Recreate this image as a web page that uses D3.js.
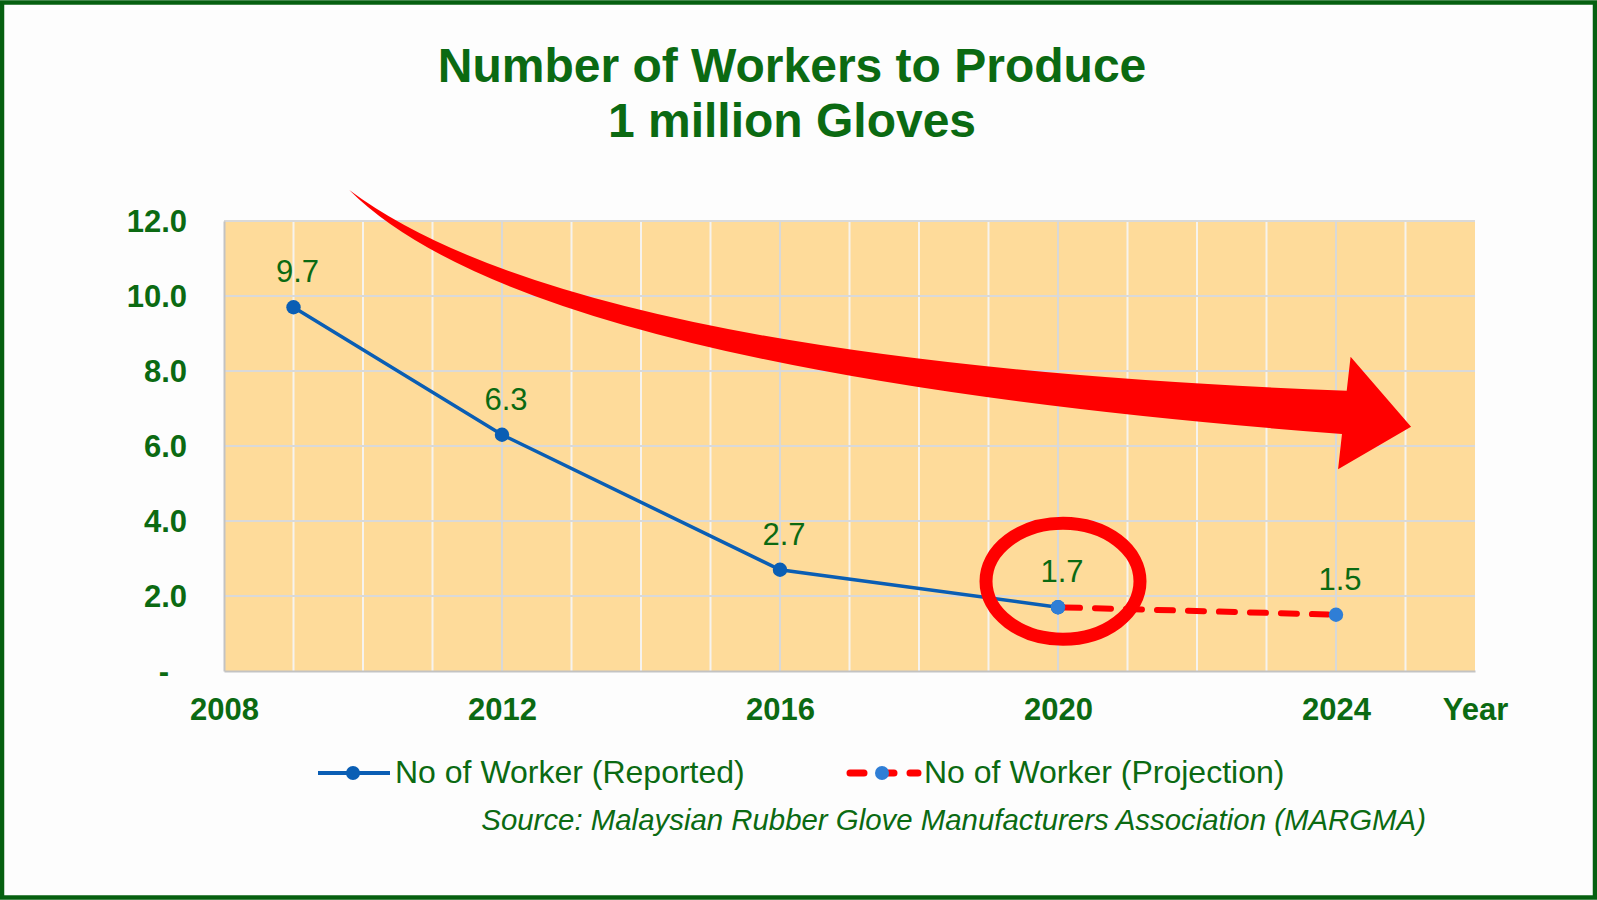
<!DOCTYPE html>
<html>
<head>
<meta charset="utf-8">
<script src="https://cdn.jsdelivr.net/npm/d3@7/dist/d3.min.js"></script>
<style>
  html, body { margin: 0; padding: 0; background: #ffffff; }
  svg { display: block; }
  text { font-family: "Liberation Sans", Arial, Helvetica, sans-serif; }
</style>
</head>
<body>
<svg id="chart" width="1597" height="900"></svg>
<script>
// ---------- data ----------
const reportedYears  = [2009, 2012, 2016, 2020];
const reportedValues = [9.7, 6.3, 2.7, 1.7];
const projectionYears  = [2020, 2024];
const projectionValues = [1.7, 1.5];
const xTickYears  = [2008, 2012, 2016, 2020, 2024, 2026];
const xTickLabels = ["2008", "2012", "2016", "2020", "2024", "Year"];
const yTickValues = [0, 2, 4, 6, 8, 10, 12];
const yTickLabels = ["-", "2.0", "4.0", "6.0", "8.0", "10.0", "12.0"];
const titleLines  = ["Number of Workers to Produce", "1 million Gloves"];
const legendLabels = ["No of Worker (Reported)", "No of Worker (Projection)"];
const sourceText = "Source: Malaysian Rubber Glove Manufacturers Association (MARGMA)";

// decorative trend arrow, in data units (year, value): quadratic edges + head
const arrowTail      = [2009.802, 12.827];
const arrowUpperCtrl = [2013.108, 8.24];
const arrowUpperEnd  = [2024.154, 7.475];
const arrowHead      = [[2024.21, 8.381], [2025.08, 6.515], [2024.03, 5.379]];
const arrowLowerEnd  = [2024.086, 6.32];
const arrowLowerCtrl = [2012.427, 7.963];

// ---------- style ----------
const GREEN = "#0b6a12";
const BLUE = "#0a5eb4";
const BLUE_LIGHT = "#2f7ed6";
const RED = "#ff0000";
const FONT = 31;

const svg = d3.select("#chart");
const W = 1597, H = 900;

svg.append("rect").attr("x", 0).attr("y", 0).attr("width", W).attr("height", H).attr("fill", "#fdfdfd");

const x = d3.scaleLinear().domain([2008, 2026]).range([224, 1475]);
const y = d3.scaleLinear().domain([0, 12]).range([671, 221]);

// plot area
svg.append("rect")
  .attr("x", x(2008)).attr("y", y(12))
  .attr("width", x(2026) - x(2008)).attr("height", y(0) - y(12))
  .attr("fill", "#fedb9a");

// vertical gridlines
const allYears = d3.range(2009, 2026);
svg.append("g").selectAll("line").data(allYears).join("line")
  .attr("x1", d => x(d)).attr("x2", d => x(d))
  .attr("y1", y(12)).attr("y2", y(0))
  .attr("stroke", d => (d % 4 === 0) ? "#d8d8d8" : "#f6f3ee")
  .attr("stroke-width", 2);

// horizontal gridlines
svg.append("g").selectAll("line").data(yTickValues.filter(v => v > 0)).join("line")
  .attr("x1", x(2008)).attr("x2", x(2026))
  .attr("y1", d => y(d)).attr("y2", d => y(d))
  .attr("stroke", "#d9d9d9").attr("stroke-width", 2);

// axes
const xAxis = d3.axisBottom(x).tickValues(xTickYears)
  .tickFormat((d, i) => xTickLabels[i]).tickSize(0).tickPadding(27);
const gx = svg.append("g").attr("transform", `translate(0,${y(0)})`).call(xAxis);
gx.select(".domain").attr("stroke", "#c3c3c3").attr("stroke-width", 2);
gx.selectAll("text").attr("fill", GREEN).attr("font-size", FONT).attr("font-weight", "bold");

const yAxis = d3.axisLeft(y).tickValues(yTickValues)
  .tickFormat((d, i) => yTickLabels[i]).tickSize(0).tickPadding(37);
const gy = svg.append("g").attr("transform", `translate(${x(2008)},0)`).call(yAxis);
gy.select(".domain").attr("stroke", "#c3c3c3").attr("stroke-width", 2);
gy.selectAll("text").attr("fill", GREEN).attr("font-size", FONT).attr("font-weight", "bold")
  .attr("dx", d => d === 0 ? -18 : 0)
  .attr("dy", "0.34em");

// trend arrow (decoration)
const P = d => [x(d[0]), y(d[1])];
const ap = d3.path();
ap.moveTo(...P(arrowTail));
ap.quadraticCurveTo(...P(arrowUpperCtrl), ...P(arrowUpperEnd));
arrowHead.forEach(h => ap.lineTo(...P(h)));
ap.lineTo(...P(arrowLowerEnd));
ap.quadraticCurveTo(...P(arrowLowerCtrl), ...P(arrowTail));
ap.closePath();
svg.append("path").attr("d", ap.toString()).attr("fill", RED);

// reported line
const lineGen = d3.line().x(d => x(d[0])).y(d => y(d[1]));
const reported = reportedYears.map((yr, i) => [yr, reportedValues[i]]);
const projection = projectionYears.map((yr, i) => [yr, projectionValues[i]]);

svg.append("path").datum(reported).attr("d", lineGen)
  .attr("fill", "none").attr("stroke", BLUE).attr("stroke-width", 3.5);
svg.append("g").selectAll("circle").data(reported).join("circle")
  .attr("cx", d => x(d[0])).attr("cy", d => y(d[1])).attr("r", 7.2).attr("fill", BLUE);

// projection line
svg.append("path").datum(projection).attr("d", lineGen)
  .attr("fill", "none").attr("stroke", RED).attr("stroke-width", 6)
  .attr("stroke-dasharray", "16,15").attr("stroke-linecap", "round")
  .attr("stroke-dashoffset", -6);
svg.append("g").selectAll("circle").data(projection).join("circle")
  .attr("cx", d => x(d[0])).attr("cy", d => y(d[1])).attr("r", 7.2).attr("fill", BLUE_LIGHT);

// highlight ring around the 2020 point
svg.append("ellipse")
  .attr("cx", x(2020) + 5).attr("cy", y(1.7) - 26)
  .attr("rx", 77).attr("ry", 58)
  .attr("fill", "none").attr("stroke", RED).attr("stroke-width", 13);

// data labels
const labelPts = reported.concat([projection[1]]);
svg.append("g").selectAll("text").data(labelPts).join("text")
  .attr("x", d => x(d[0]) + 4).attr("y", d => y(d[1]) - 25)
  .attr("text-anchor", "middle").attr("fill", GREEN).attr("font-size", FONT)
  .text(d => d[1].toFixed(1));

// title
svg.append("g").selectAll("text").data(titleLines).join("text")
  .attr("x", 792).attr("y", (d, i) => 82 + i * 55)
  .attr("text-anchor", "middle").attr("fill", GREEN)
  .attr("font-size", 48).attr("font-weight", "bold")
  .text(d => d);

// legend
const lgY = 773;
const LGFONT = 32;
const lg1 = svg.append("g");
lg1.append("line").attr("x1", 318).attr("x2", 390).attr("y1", lgY).attr("y2", lgY)
  .attr("stroke", BLUE).attr("stroke-width", 4);
lg1.append("circle").attr("cx", 353).attr("cy", lgY).attr("r", 7).attr("fill", BLUE);
lg1.append("text").attr("x", 395).attr("y", lgY + 10).attr("fill", GREEN).attr("font-size", LGFONT)
  .text(legendLabels[0]);

const lg2 = svg.append("g");
lg2.append("line").attr("x1", 850).attr("x2", 918).attr("y1", lgY).attr("y2", lgY)
  .attr("stroke", RED).attr("stroke-width", 7)
  .attr("stroke-dasharray", "14,16").attr("stroke-linecap", "round");
lg2.append("circle").attr("cx", 882).attr("cy", lgY).attr("r", 7).attr("fill", BLUE_LIGHT);
lg2.append("text").attr("x", 924).attr("y", lgY + 10).attr("fill", GREEN).attr("font-size", LGFONT)
  .text(legendLabels[1]);

// source
svg.append("text").attr("x", 1426).attr("y", 830).attr("text-anchor", "end")
  .attr("fill", GREEN).attr("font-size", 29.4).attr("font-style", "italic")
  .text(sourceText);

// border
svg.append("rect").attr("x", 2).attr("y", 2.5).attr("width", W - 4).attr("height", H - 5)
  .attr("fill", "none").attr("stroke", "#066010").attr("stroke-width", 4.5);
</script>
</body>
</html>
